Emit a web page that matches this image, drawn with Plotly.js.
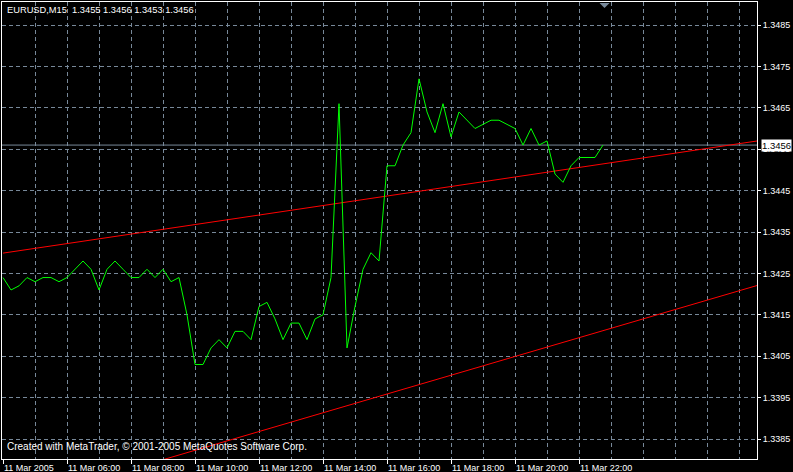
<!DOCTYPE html>
<html>
<head>
<meta charset="utf-8">
<script src="https://cdn.plot.ly/plotly-3.0.1.min.js"></script>
<style>
  html, body { margin: 0; padding: 0; background: #000; }
  #chart { width: 793px; height: 472px; }
</style>
</head>
<body>
<div id="chart"></div>
<script>
// ---- data ----
const symbol = "EURUSD";
const period = "M15";
const lastOHLC = [1.3455, 1.3456, 1.3453, 1.3456];

// 15-minute closes, first bar 04:00, last bar 22:45 (11 Mar 2005)
const closes = [
  1.3424, 1.3421, 1.3422, 1.3424, 1.3423, 1.3424, 1.3424, 1.3423,
  1.3424, 1.3426, 1.3428, 1.3426, 1.3421, 1.3426, 1.3428, 1.3426,
  1.3424, 1.3424, 1.3426, 1.3424, 1.3426, 1.3423, 1.3424, 1.3415,
  1.3403, 1.3403, 1.3407, 1.3409, 1.3407, 1.3411, 1.3411, 1.3409,
  1.3417, 1.3418, 1.3414, 1.3409, 1.3413, 1.3413, 1.3409, 1.3414,
  1.3415, 1.3424, 1.3466, 1.3407, 1.3417, 1.3426, 1.3430, 1.3428,
  1.3451, 1.3451, 1.3456, 1.3459, 1.3472, 1.3464, 1.3459, 1.3466,
  1.3458, 1.3464, 1.3462, 1.3460, 1.3461, 1.3462, 1.3462, 1.3461,
  1.3460, 1.3456, 1.3460, 1.3456, 1.3457, 1.3449, 1.3447, 1.3451,
  1.3453, 1.3453, 1.3453, 1.3456
];

const firstBarHour = 4;
const barsPerHour = 4;
const tickHours  = [4, 6, 8, 10, 12, 14, 16, 18, 20, 22];
const tickLabels = ["11 Mar 2005", "11 Mar 06:00", "11 Mar 08:00", "11 Mar 10:00",
                    "11 Mar 12:00", "11 Mar 14:00", "11 Mar 16:00", "11 Mar 18:00",
                    "11 Mar 20:00", "11 Mar 22:00"];
const priceTicks = [1.3385, 1.3395, 1.3405, 1.3415, 1.3425, 1.3435, 1.3445,
                    1.3455, 1.3465, 1.3475, 1.3485];

// trend lines (bar index, price) end points
const upperTrendBars   = [0, 95];
const upperTrendPrices = [1.34299, 1.34572];
const lowerTrendBars   = [20, 95];
const lowerTrendPrices = [1.33800, 1.34225];

// ---- chart ----
const barIdx = closes.map((_, i) => i);
const tickvals = tickHours.map(h => (h - firstBarHour) * barsPerHour);
const bid = closes[closes.length - 1];

const GRID = "#778899";
const FONT = { family: "Liberation Sans, Arial, sans-serif", size: 9, color: "#ffffff" };

const traces = [
  { x: upperTrendBars, y: upperTrendPrices, mode: "lines", type: "scatter",
    line: { color: "#ff0000", width: 1 }, hoverinfo: "skip" },
  { x: lowerTrendBars, y: lowerTrendPrices, mode: "lines", type: "scatter",
    line: { color: "#ff0000", width: 1 }, hoverinfo: "skip" },
  { x: barIdx, y: closes, mode: "lines", type: "scatter",
    line: { color: "#00ff00", width: 1 } }
];

const layout = {
  width: 793, height: 472,
  margin: { l: 2, r: 36, t: 2, b: 13, pad: 0 },
  paper_bgcolor: "#000000",
  plot_bgcolor: "#000000",
  showlegend: false,
  font: FONT,
  xaxis: {
    range: [-0.125, 94.25],
    tickmode: "array", tickvals: tickvals, ticktext: tickLabels,
    ticks: "outside", ticklen: 4, tickcolor: "#ffffff", tickwidth: 1,
    ticklabelposition: "outside right",
    tickfont: FONT,
    showgrid: true, gridcolor: GRID, gridwidth: 1, griddash: "4px,3px",
    minor: { tick0: 0, dtick: 4, showgrid: true, gridcolor: GRID, gridwidth: 1, griddash: "4px,3px", ticks: "" },
    showline: true, linecolor: "#ffffff", linewidth: 1, mirror: true,
    zeroline: false, fixedrange: true
  },
  yaxis: {
    side: "right",
    range: [1.338017, 1.349056],
    tickmode: "array", tickvals: priceTicks, tickformat: ".4f",
    ticks: "outside", ticklen: 3, tickcolor: "#ffffff", tickwidth: 1,
    tickfont: FONT,
    showgrid: true, gridcolor: GRID, gridwidth: 1, griddash: "4px,3px",
    showline: true, linecolor: "#ffffff", linewidth: 1, mirror: true,
    zeroline: false, fixedrange: true
  },
  shapes: [
    { type: "line", xref: "paper", x0: 0, x1: 1, yref: "y", y0: bid, y1: bid,
      line: { color: GRID, width: 1 }, layer: "below" },
    { type: "path", xref: "paper", yref: "paper",
      path: "M 0.7914 0.998 L 0.8047 0.998 L 0.7980 0.987 Z",
      fillcolor: GRID, line: { width: 0 } }
  ],
  annotations: [
    { xref: "paper", yref: "paper", x: 0, y: 1, xanchor: "left", yanchor: "top",
      xshift: 3, yshift: -1, showarrow: false,
      text: symbol + "," + period + "\u00A0\u00A0" + lastOHLC.map(v => v.toFixed(4)).join(" "),
      font: { family: FONT.family, size: 9.3, color: "#ffffff" } },
    { xref: "paper", yref: "paper", x: 0, y: 0, xanchor: "left", yanchor: "middle",
      xshift: 3, yshift: 12.5, showarrow: false,
      text: "Created with MetaTrader, © 2001-2005 MetaQuotes Software Corp.",
      font: { family: FONT.family, size: 10, color: "#ffffff" } },
    { xref: "paper", yref: "y", x: 1, y: bid, xanchor: "left", yanchor: "middle",
      xshift: 4, showarrow: false, bgcolor: "#ffffff", borderpad: 0,
      text: bid.toFixed(4),
      font: { family: FONT.family, size: 9.5, color: "#000000" } }
  ]
};

Plotly.newPlot("chart", traces, layout, { staticPlot: true, displayModeBar: false });
</script>
</body>
</html>
